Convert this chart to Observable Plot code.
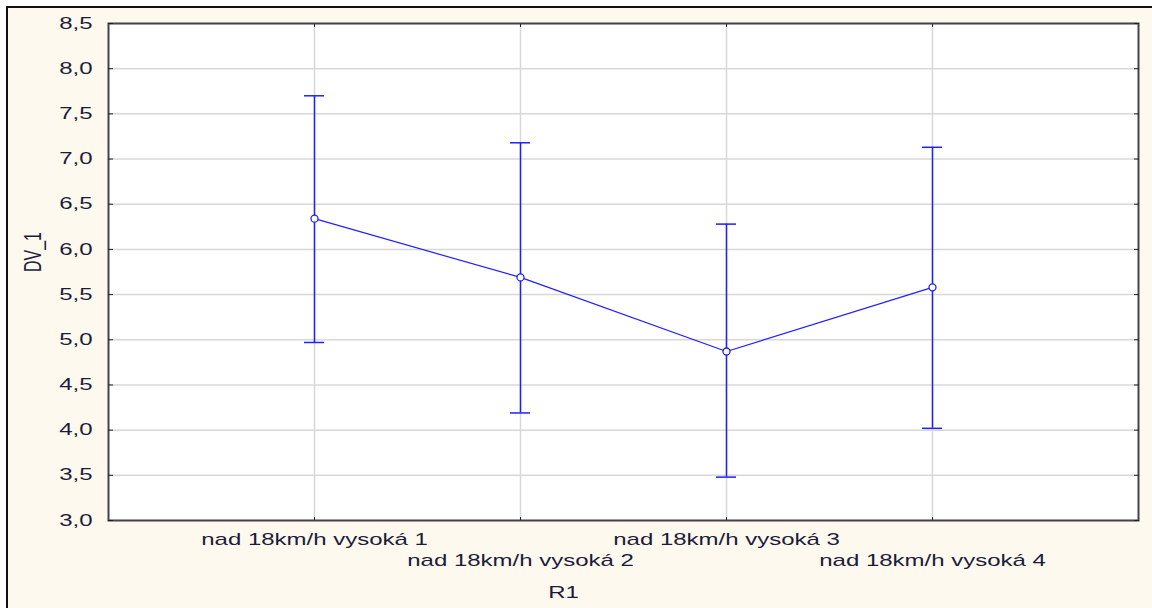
<!DOCTYPE html>
<html>
<head>
<meta charset="utf-8">
<script src="https://cdn.jsdelivr.net/npm/d3@7"></script>
<script src="https://cdn.jsdelivr.net/npm/@observablehq/plot@0.6"></script>
<style>
  html, body { margin: 0; padding: 0; background: #ffffff; width: 1152px; height: 608px; overflow: hidden; }
  #bg { position: absolute; left: 6px; top: 6px; right: 0; bottom: 0; background: #fef9ee; border-left: 2px solid #111; border-top: 2px solid #111; }
  #chart { position: absolute; left: 0; top: 0; }
  #chart svg { background: transparent; }
</style>
</head>
<body>
<div id="bg"></div>
<div id="chart"></div>
<script>
const categories = ["nad 18km/h vysoká 1", "nad 18km/h vysoká 2", "nad 18km/h vysoká 3", "nad 18km/h vysoká 4"];
const means = [6.34, 5.69, 4.87, 5.58];
const lower = [4.97, 4.19, 3.48, 4.02];
const upper = [7.70, 7.18, 6.28, 7.13];
const yTicks = [3.0, 3.5, 4.0, 4.5, 5.0, 5.5, 6.0, 6.5, 7.0, 7.5, 8.0, 8.5];
const xLabel = "R1";
const yLabel = "DV_1";

const data = categories.map((c, i) => ({cat: c, mean: means[i], lo: lower[i], hi: upper[i], row: i % 2}));
const blue = "#1f1fff";
const ink = "#1c1c3a";
const fmt = d => d.toFixed(1).replace(".", ",");
const FS = 16;

const chart = Plot.plot({
  width: 1152,
  height: 608,
  marginLeft: 108,
  marginRight: 14,
  marginTop: 23,
  marginBottom: 88,
  style: {background: "transparent", fontFamily: "'Liberation Sans', Arial, sans-serif", fontSize: FS + "px", color: ink},
  x: {type: "band", domain: categories, paddingInner: 0.903, paddingOuter: 0.951, align: 0.5},
  y: {domain: [3.0, 8.5]},
  marks: [
    Plot.frame({fill: "white", stroke: "none"}),
    Plot.gridY(yTicks, {stroke: "#d8d8d8", strokeOpacity: 1, strokeWidth: 1.5}),
    Plot.gridX(categories, {stroke: "#d8d8d8", strokeOpacity: 1, strokeWidth: 1.5}),
    Plot.frame({stroke: "#444", strokeWidth: 2}),
    // inward ticks
    Plot.axisY(yTicks, {anchor: "left", tickSize: 5, dx: 5, tickFormat: () => "", label: null, stroke: "#222"}),
    Plot.axisY(yTicks, {anchor: "right", tickSize: 5, dx: -5, tickFormat: () => "", label: null, stroke: "#222"}),
    Plot.axisX(categories, {anchor: "bottom", tickSize: 3, dy: -3, tickFormat: () => "", label: null, stroke: "#222"}),
    Plot.axisX(categories, {anchor: "top", tickSize: 3, dy: 3, tickFormat: () => "", label: null, stroke: "#222"}),
    // y tick labels
    Plot.axisY(yTicks, {anchor: "left", tickSize: 0, tickPadding: 16, tickFormat: fmt, label: null, fill: ink, fontSize: FS}),
    // x category labels, staggered
    Plot.text(data.filter(d => d.row === 0), {x: "cat", text: "cat", frameAnchor: "bottom", dy: 19, lineAnchor: "middle", fill: ink, fontSize: FS}),
    Plot.text(data.filter(d => d.row === 1), {x: "cat", text: "cat", frameAnchor: "bottom", dy: 40, lineAnchor: "middle", fill: ink, fontSize: FS}),
    Plot.text([xLabel], {text: d => d, frameAnchor: "bottom", dx: -60, dy: 72, lineAnchor: "middle", fill: ink, fontSize: FS}),
    Plot.text([yLabel], {text: d => d, frameAnchor: "left", dx: -75, rotate: -90, lineAnchor: "middle", fill: ink, fontSize: FS}),
    // error bars
    Plot.ruleX(data, {x: "cat", y1: "lo", y2: "hi", stroke: blue, strokeWidth: 1.5}),
    Plot.tickY(data, {x: "cat", y: "lo", stroke: blue, strokeWidth: 1.5}),
    Plot.tickY(data, {x: "cat", y: "hi", stroke: blue, strokeWidth: 1.5}),
    Plot.line(data, {x: "cat", y: "mean", stroke: blue, strokeWidth: 1.2}),
    Plot.dot(data, {x: "cat", y: "mean", r: 3.5, stroke: blue, fill: "white", strokeWidth: 1.3})
  ]
});

// the reference's lettering is stretched horizontally on screen (~1.5x)
const SX = 1.5;
chart.querySelectorAll("text").forEach(t => {
  const tr = t.getAttribute("transform") || "";
  const s = /rotate\(\s*-?90/.test(tr) ? `scale(1,${SX})` : `scale(${SX},1)`;
  t.setAttribute("transform", `${tr} ${s}`.trim());
});
document.getElementById("chart").appendChild(chart);
</script>
</body>
</html>
